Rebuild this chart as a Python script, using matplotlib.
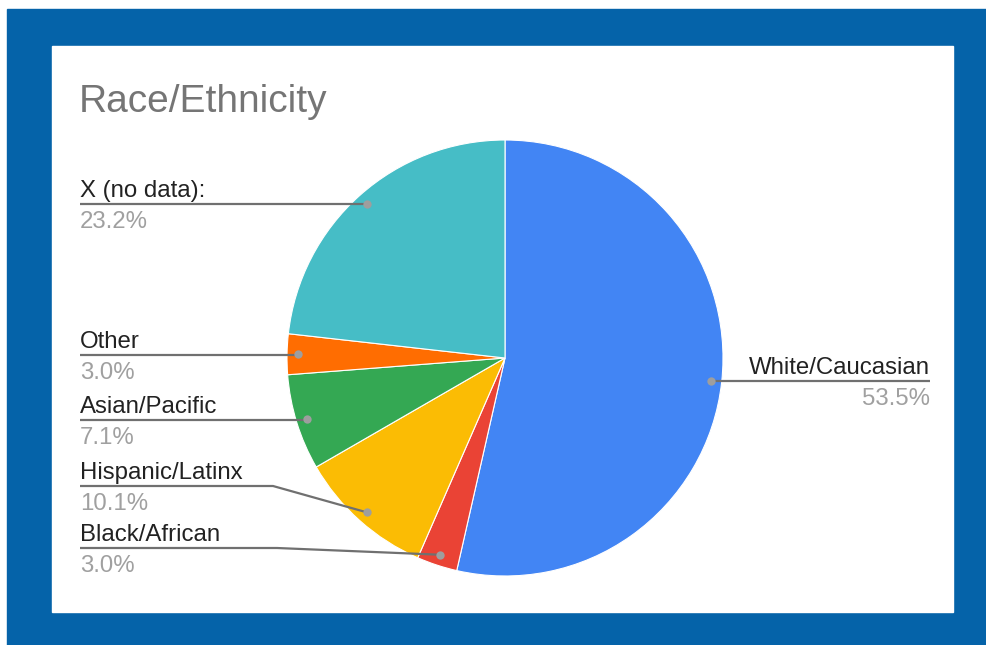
import numpy as np
import matplotlib
matplotlib.use("Agg")
import matplotlib.pyplot as plt
from matplotlib.patches import Rectangle

plt.rcParams['font.family'] = ['Liberation Sans', 'DejaVu Sans']

# Data (clockwise from 12 o'clock)
categories = ["White/Caucasian", "Black/African", "Hispanic/Latinx",
              "Asian/Pacific", "Other", "X (no data):"]
shares = [53.5, 3.0, 10.1, 7.1, 3.0, 23.2]
colors = ["#4285F4", "#EA4335", "#FBBC04", "#34A853", "#FF6D01", "#46BDC6"]

W, H = 986, 645
fig = plt.figure(figsize=(W / 100, H / 100), dpi=100)
fig.patch.set_facecolor("white")

# blue frame with white card
fig.patches.append(Rectangle((7 / W, 0), (W - 7) / W, (H - 9) / H,
                             transform=fig.transFigure, color="#0563A9", zorder=-10))
fig.patches.append(Rectangle((52 / W, (H - 612) / H), 901 / W, 566 / H,
                             transform=fig.transFigure, color="white", zorder=-9))

ax = fig.add_axes([0, 0, 1, 1])
ax.set_facecolor("none")
ax.axis("off")


def Y(y):
    return H - y


cx, cy, R = 505, Y(358), 218
wedges, _ = ax.pie(shares, colors=colors, startangle=90, counterclock=False,
                   center=(cx, cy), radius=R,
                   wedgeprops=dict(edgecolor="white", linewidth=0.8))
ax.set_xlim(0, W)
ax.set_ylim(0, H)
ax.set_aspect("auto")

ax.text(79, Y(112), "Race/Ethnicity", fontsize=28, color="#757575",
        ha="left", va="baseline")

# label layout: leader line y (pixels from top), side, elbow x
layout = {
    "White/Caucasian": (381, "right", None),
    "Black/African": (548, "left", 277),
    "Hispanic/Latinx": (486, "left", 273),
    "Asian/Pacific": (420, "left", None),
    "Other": (355, "left", None),
    "X (no data):": (204, "left", None),
}

line_col = "#707070"
name_col = "#222222"
pct_col = "#A0A0A0"
fs = 17.3

for w, name, val in zip(wedges, categories, shares):
    mid = np.deg2rad((w.theta1 + w.theta2) / 2)
    px = cx + 0.95 * R * np.cos(mid)
    py = cy + 0.95 * R * np.sin(mid)
    ly, side, elbow = layout[name]
    ly = Y(ly)
    if side == "right":
        ax.plot([px, 930], [ly, ly], color=line_col, lw=1.6, zorder=3,
                solid_capstyle="butt")
        ax.text(930, ly + 7, name, fontsize=fs, color=name_col,
                ha="right", va="baseline")
        ax.text(930, ly - 7, f"{val:.1f}%", fontsize=fs, color=pct_col,
                ha="right", va="top")
    else:
        if elbow is None:
            ax.plot([80, px], [ly, ly], color=line_col, lw=1.6, zorder=3,
                    solid_capstyle="butt")
        else:
            ax.plot([80, elbow, px], [ly, ly, py], color=line_col, lw=1.6,
                    zorder=3, solid_capstyle="butt")
        ax.text(80, ly + 7, name, fontsize=fs, color=name_col,
                ha="left", va="baseline")
        ax.text(80, ly - 7, f"{val:.1f}%", fontsize=fs, color=pct_col,
                ha="left", va="top")
    ax.plot([px], [py], "o", color="#9E9E9E", ms=6, mec="none", zorder=4)

fig.savefig("out.png", dpi=100)
